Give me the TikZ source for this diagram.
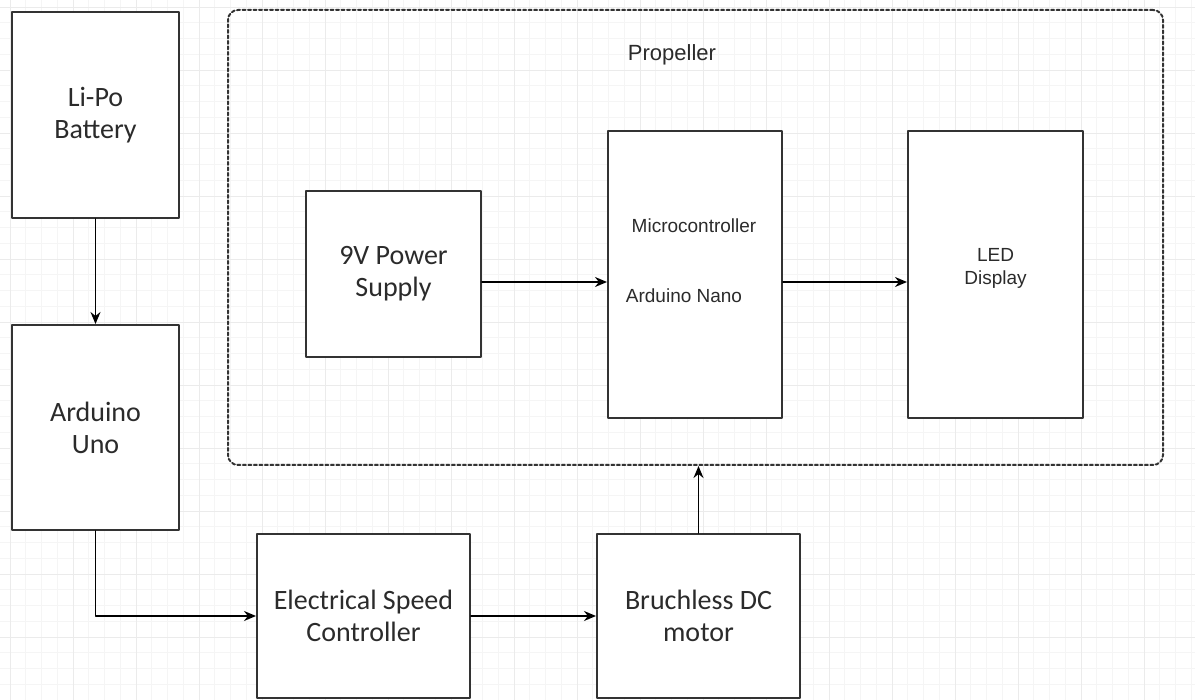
\documentclass[tikz,border=0pt]{standalone}
\usepackage{fontspec}
\newfontfamily\calfont{Carlito}
\newfontfamily\arialfont{Liberation Sans}
\usetikzlibrary{arrows.meta}
\definecolor{edge}{HTML}{333333}
\definecolor{ink}{HTML}{2B2B2B}

\begin{document}
\begin{tikzpicture}[x=1pt, y=-1pt, line cap=round, line join=round]
  \tikzset{block/.style={draw=edge, line width=2pt, fill=white, rectangle, inner sep=0pt, text=ink, align=center},
    bigtext/.style={font=\calfont\fontsize{28}{32}\selectfont},
    smalltext/.style={font=\arialfont\fontsize{19}{23}\selectfont, text=ink, align=center},
    arr/.style={draw=black, line width=1.8pt, -{Stealth[length=12pt, width=10pt]}},
    gridminor/.style={draw=black!4, line width=.6pt},
    gridmajor/.style={draw=black!8, line width=.8pt}}

  \useasboundingbox (0,0) rectangle (1195,700);
  \fill[white] (0,0) rectangle (1195,700);

  % background grid
  \begin{scope}[shift={(10,7)}]
    \draw[gridminor] (-10,-7) grid[step=15.75pt] (1185,693);
    \draw[gridmajor] (-10,-7) grid[step=63pt] (1185,693);
  \end{scope}

  % propeller
  \node[draw=edge, line width=2pt, dash pattern=on 3pt off 2.5pt, rounded corners=10pt, minimum width=935pt, minimum height=455pt, inner sep=0pt] (prop) at (695.5,237.5) {};
  \node[smalltext, font=\arialfont\fontsize{22}{26}\selectfont] (proplabel) at (672,55) {Propeller};

  % left column
  \node[block, bigtext, minimum width=167pt, minimum height=206pt] (lipo) at (95.5,115) {Li-Po\\Battery};
  \node[block, bigtext, minimum width=167pt, minimum height=205pt] (uno) at (95.5,427.5) {Arduino\\Uno};

  % bottom row
  \node[block, bigtext, minimum width=213pt, minimum height=164pt] (esc) at (363.5,616) {Electrical Speed\\Controller};
  \node[block, bigtext, minimum width=203pt, minimum height=164pt] (bldc) at (698.5,616) {Bruchless DC\\motor};

  % inside propeller
  \node[block, bigtext, minimum width=175pt, minimum height=166pt] (supply) at (393.5,274) {9V Power\\Supply};
  \node[block, minimum width=174pt, minimum height=287pt] (mcu) at (695,274.5) {};
  \node[smalltext] (mcutop) at (694,226) {Microcontroller};
  \node[smalltext] (mcubot) at (684,296) {Arduino Nano};
  \node[block, minimum width=175pt, minimum height=287pt] (led) at (995.5,274.5) {};
  \node[smalltext] (ledtext) at (995.5,268) {LED\\Display};

  % connectors
  \draw[arr] (lipo.south) -- (uno.north);
  \draw[arr] (uno.south) |- (esc.west);
  \draw[arr] (esc.east) -- (bldc.west);
  \draw[arr] (bldc.north) -- (bldc.north |- prop.south);
  \draw[arr] ([yshift=-8pt]supply.east) -- ([yshift=-8pt]supply.east -| mcu.west);
  \draw[arr] ([yshift=-7.5pt]mcu.east) -- ([yshift=-7.5pt]mcu.east -| led.west);
\end{tikzpicture}
\end{document}
